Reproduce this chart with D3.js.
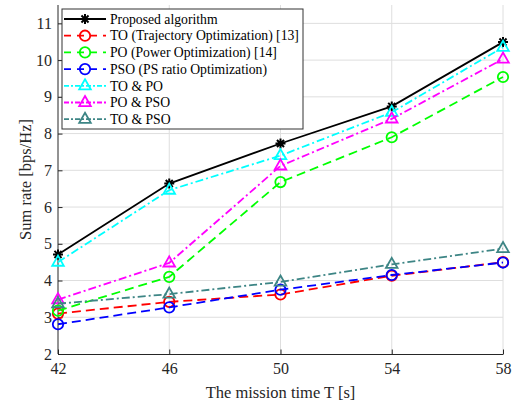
<!DOCTYPE html>
<html>
<head>
<meta charset="utf-8">
<script src="https://cdn.jsdelivr.net/npm/d3@7"></script>
<style>
  body { margin: 0; background: #fff; }
  svg { display: block; font-family: "Liberation Serif", "Times New Roman", serif; }
</style>
</head>
<body>
<svg id="chart" width="515" height="404"></svg>
<script>
// data
const times = [42, 46, 50, 54, 58];
const proposed = [4.71, 6.64, 7.73, 8.74, 10.49];
const toOnly = [3.10, 3.42, 3.62, 4.13, 4.50];
const poOnly = [3.18, 4.10, 6.68, 7.90, 9.54];
const psoOnly = [2.81, 3.27, 3.75, 4.15, 4.49];
const toPo = [4.50, 6.46, 7.40, 8.58, 10.35];
const poPso = [3.48, 4.48, 7.12, 8.40, 10.03];
const toPso = [3.37, 3.63, 3.96, 4.44, 4.87];
const yTicks = [2, 3, 4, 5, 6, 7, 8, 9, 10, 11];
const names = [
  "Proposed algorithm",
  "TO (Trajectory Optimization) [13]",
  "PO (Power Optimization) [14]",
  "PSO (PS ratio Optimization)",
  "TO & PO",
  "PO & PSO",
  "TO & PSO"
];

// styles per series
const series = [
  { name: names[0], values: proposed, color: "#000000", dash: null, marker: "star" },
  { name: names[1], values: toOnly, color: "#ff0000", dash: "9,5", marker: "circle" },
  { name: names[2], values: poOnly, color: "#00ff00", dash: "9,5", marker: "circle" },
  { name: names[3], values: psoOnly, color: "#0000ff", dash: "9,5", marker: "circle" },
  { name: names[4], values: toPo, color: "#00ffff", dash: "8,3,2,3", marker: "tri" },
  { name: names[5], values: poPso, color: "#ff00ff", dash: "8,3,2,3", marker: "tri" },
  { name: names[6], values: toPso, color: "#3d8585", dash: "8,3,2,3", marker: "tri" }
];

const width = 515, height = 404;
const margin = { left: 58, right: 12, top: 5, bottom: 50 };

const svg = d3.select("#chart");

const x = d3.scaleLinear().domain([42, 58]).range([margin.left, width - margin.right]);
const y = d3.scaleLinear().domain([2, 11.5]).range([height - margin.bottom, margin.top]);

// grid
const grid = svg.append("g");
grid.selectAll("line.gy")
  .data(yTicks.slice(1))
  .join("line")
  .attr("x1", x(42)).attr("x2", x(58))
  .attr("y1", d => y(d)).attr("y2", d => y(d))
  .attr("stroke", "#dedede").attr("stroke-width", 1);
grid.selectAll("line.gx")
  .data(times.slice(1))
  .join("line")
  .attr("x1", d => x(d)).attr("x2", d => x(d))
  .attr("y1", y(2)).attr("y2", y(11.5))
  .attr("stroke", "#dedede").attr("stroke-width", 1);

// axes
const xAxis = svg.append("g")
  .attr("transform", `translate(0,${y(2)})`)
  .call(d3.axisBottom(x).tickValues(times).tickSizeInner(-4.5).tickSizeOuter(0).tickPadding(9));
const yAxis = svg.append("g")
  .attr("transform", `translate(${x(42)},0)`)
  .call(d3.axisLeft(y).tickValues(yTicks).tickSizeInner(-4.5).tickSizeOuter(0).tickPadding(6));

[xAxis, yAxis].forEach(function (a) {
  a.select(".domain").attr("stroke", "#262626").attr("stroke-width", 1);
  a.selectAll(".tick line").attr("stroke", "#262626");
  a.selectAll(".tick text")
    .attr("fill", "#262626")
    .style("font-family", "'Liberation Serif', serif")
    .style("font-size", "16px");
});
// the axis line on the left reaches the top of the box
yAxis.select(".domain").attr("d", `M0,${y(11.5)}V${y(2)}`);

svg.append("text")
  .attr("x", (x(42) + x(58)) / 2)
  .attr("y", 398)
  .attr("text-anchor", "middle")
  .attr("fill", "#262626")
  .style("font-size", "16.5px")
  .text("The mission time T [s]");

svg.append("text")
  .attr("transform", `translate(31,${(y(2) + y(11.5)) / 2}) rotate(-90)`)
  .attr("text-anchor", "middle")
  .attr("fill", "#262626")
  .style("font-size", "16.5px")
  .text("Sum rate [bps/Hz]");

// marker shapes
const starPath = (function () {
  const r = 5, d = r * Math.SQRT1_2;
  return `M${-r},0H${r}M0,${-r}V${r}M${-d},${-d}L${d},${d}M${-d},${d}L${d},${-d}`;
})();
const triPath = "M0,-6.5L5.8,3.6L-5.8,3.6Z";

function drawMarker(sel, s) {
  if (s.marker === "circle") {
    sel.append("circle").attr("r", 5.2)
      .attr("fill", "none").attr("stroke", s.color).attr("stroke-width", 1.8);
  } else if (s.marker === "tri") {
    sel.append("path").attr("d", triPath)
      .attr("fill", "none").attr("stroke", s.color).attr("stroke-width", 1.8);
  } else {
    sel.append("path").attr("d", starPath)
      .attr("fill", "none").attr("stroke", s.color).attr("stroke-width", 2);
  }
}

const line = d3.line()
  .x(d => x(d[0]))
  .y(d => y(d[1]));

const plot = svg.append("g");
series.forEach(function (s) {
  const pts = times.map((t, i) => [t, s.values[i]]);
  const g = plot.append("g");
  g.append("path")
    .datum(pts)
    .attr("d", line)
    .attr("fill", "none")
    .attr("stroke", s.color)
    .attr("stroke-width", 1.8)
    .attr("stroke-dasharray", s.dash);
  g.selectAll("g.m")
    .data(pts)
    .join("g")
    .attr("transform", d => `translate(${x(d[0])},${y(d[1])})`)
    .each(function () { drawMarker(d3.select(this), s); });
});

// legend
const legend = svg.append("g").attr("transform", "translate(62,9)");
legend.append("rect")
  .attr("width", 241).attr("height", 120)
  .attr("fill", "#fff").attr("stroke", "#333").attr("stroke-width", 1);

const rows = legend.selectAll("g.row")
  .data(series)
  .join("g")
  .attr("transform", (d, i) => `translate(0,${10 + i * 16.7})`);

rows.append("line")
  .attr("x1", 2).attr("x2", 44)
  .attr("stroke", d => d.color)
  .attr("stroke-width", 1.8)
  .attr("stroke-dasharray", d => d.dash === "9,5" ? "7,6" : (d.dash ? "5,2,2,2" : null));
rows.append("g")
  .attr("transform", "translate(23,0)")
  .each(function (d) { drawMarker(d3.select(this), d); });
rows.append("text")
  .attr("x", 48)
  .attr("dy", "0.35em")
  .attr("fill", "#000")
  .style("font-size", "13.7px")
  .text(d => d.name);
</script>
</body>
</html>
